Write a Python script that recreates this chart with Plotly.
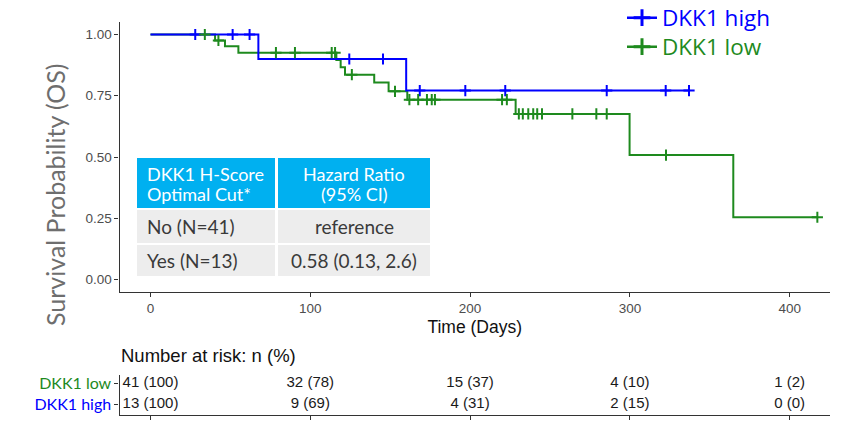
import plotly.graph_objects as go

# ---- Kaplan-Meier step data (time in days, survival probability) ----
high_step_t = [0, 67.5, 160.0, 337.0]
high_step_s = [1.0, 0.900, 0.771, 0.771]
high_censor_t = [28, 51.4, 62, 124.4, 145.5, 168.5, 197, 222, 285.5, 322.4, 337]

low_step_t = [0, 40.4, 46.6, 55.0, 116.3, 119.0, 121.7, 140.0, 149.0, 160.7,
              228.5, 299.8, 364.7, 417.3]
low_step_s = [1.0, 0.976, 0.952, 0.926, 0.896, 0.866, 0.836, 0.804, 0.768, 0.734,
              0.676, 0.508, 0.254, 0.254]
low_censor_t = [34, 42.5, 78.5, 90.4, 113.4, 115.5, 126, 153, 162, 167.5, 173, 176,
                178, 220, 223, 230.5, 233, 236.4, 239.5, 242, 245, 264, 279, 285.5,
                322.6, 417.3]

# ---- Number at risk table ----
risk_times = [0, 100, 200, 300, 400]
risk_low = ["41 (100)", "32 (78)", "15 (37)", "4 (10)", "1 (2)"]
risk_high = ["13 (100)", "9 (69)", "4 (31)", "2 (15)", "0 (0)"]

# ---- Hazard ratio table ----
hr_header_col1 = ["DKK1 H-Score", "Optimal Cut*"]
hr_header_col2 = ["Hazard Ratio", "(95% CI)"]
hr_col1 = ["No (N=41)", "Yes (N=13)"]
hr_col2 = ["reference", "0.58 (0.13, 2.6)"]

x_ticks = [0, 100, 200, 300, 400]
y_ticks = [0, 0.25, 0.5, 0.75, 1.0]

BLUE = "#0000FF"
GREEN = "#1E8A1E"
W, H = 842, 425
CAL = "Lato, Open Sans, sans-serif"
ARIAL = "Liberation Sans, Arial, sans-serif"


def surv_at(t, step_t, step_s):
    s = step_s[0]
    for tt, ss in zip(step_t, step_s):
        if tt <= t:
            s = ss
    return s


def px_x(p):
    return p / W


def px_y(p):
    return 1 - p / H


fig = go.Figure()

# survival curves
fig.add_trace(go.Scatter(x=low_step_t, y=low_step_s, mode="lines", line_shape="hv",
                         line=dict(color=GREEN, width=2), showlegend=False,
                         hoverinfo="skip"))
fig.add_trace(go.Scatter(x=high_step_t, y=high_step_s, mode="lines", line_shape="hv",
                         line=dict(color=BLUE, width=2), showlegend=False,
                         hoverinfo="skip"))

# censoring marks
fig.add_trace(go.Scatter(x=high_censor_t,
                         y=[surv_at(t, high_step_t, high_step_s) for t in high_censor_t],
                         mode="markers",
                         marker=dict(symbol="cross-thin", size=8,
                                     line=dict(color=BLUE, width=2)),
                         showlegend=False))
fig.add_trace(go.Scatter(x=low_censor_t,
                         y=[surv_at(t, low_step_t, low_step_s) for t in low_censor_t],
                         mode="markers",
                         marker=dict(symbol="cross-thin", size=8,
                                     line=dict(color=GREEN, width=2)),
                         showlegend=False))

# legend entries (one legend box per group so each can be placed freely)
fig.add_trace(go.Scatter(x=[None], y=[None], mode="lines+markers",
                         name=f'<span style="color:{BLUE}">DKK1 high</span>',
                         legend="legend",
                         line=dict(color=BLUE, width=2.5),
                         marker=dict(symbol="cross-thin", size=12,
                                     line=dict(color=BLUE, width=3))))
fig.add_trace(go.Scatter(x=[None], y=[None], mode="lines+markers",
                         name=f'<span style="color:{GREEN}">DKK1 low</span>',
                         legend="legend2",
                         line=dict(color=GREEN, width=2.5),
                         marker=dict(symbol="cross-thin", size=12,
                                     line=dict(color=GREEN, width=3))))

# number at risk rows
fig.add_trace(go.Scatter(x=risk_times + risk_times,
                         y=[1] * len(risk_times) + [0] * len(risk_times),
                         text=risk_low + risk_high, mode="text",
                         textfont=dict(family=ARIAL, size=15, color="#1A1A1A"),
                         xaxis="x2", yaxis="y2", showlegend=False, hoverinfo="skip"))

# hazard ratio table: cell boxes (pixel bounds) and text
col_bounds = [(137, 275), (278, 430)]
row_bounds = [(158, 208), (210, 243), (245, 276)]
shapes = []
for r, (y0, y1) in enumerate(row_bounds):
    for (x0, x1) in col_bounds:
        shapes.append(dict(type="rect", xref="paper", yref="paper",
                           x0=px_x(x0), x1=px_x(x1), y0=px_y(y1), y1=px_y(y0),
                           fillcolor="#00B0F0" if r == 0 else "#EDEDED",
                           line=dict(width=0), layer="above"))

annotations = []
col1_left = 145
col2_mid = (col_bounds[1][0] + col_bounds[1][1]) / 2
for i, (a, b) in enumerate(zip(hr_header_col1, hr_header_col2)):
    yy = px_y(174 + 20 * i)
    annotations.append(dict(text=a, x=px_x(col1_left), y=yy, xanchor="left"))
    annotations.append(dict(text=b, x=px_x(col2_mid), y=yy, xanchor="center"))
for ann in annotations:
    ann.update(xref="paper", yref="paper", yanchor="middle", showarrow=False,
               font=dict(family=CAL, size=18, color="white"))
for i, (a, b) in enumerate(zip(hr_col1, hr_col2)):
    y0, y1 = row_bounds[i + 1]
    yy = px_y((y0 + y1) / 2)
    for txt, xx, anc in [(a, col1_left, "left"), (b, col2_mid, "center")]:
        annotations.append(dict(text=txt, x=px_x(xx), y=yy, xanchor=anc,
                                yanchor="middle", xref="paper", yref="paper",
                                showarrow=False,
                                font=dict(family=CAL, size=19, color="#3A3A3A")))

annotations.append(dict(text="Number at risk: n (%)", xref="paper", yref="paper",
                        x=px_x(119), y=px_y(355), xanchor="left", yanchor="middle",
                        showarrow=False,
                        font=dict(family=ARIAL, size=18.5, color="#111111")))
annotations.append(dict(text="Survival Probability (OS)", xref="paper", yref="paper",
                        x=px_x(55), y=px_y(195), xanchor="center", yanchor="middle",
                        textangle=-90, showarrow=False,
                        font=dict(family=CAL, size=25, color="#6E6E6E")))

x_left, x_right = 119.5, 830
x0_px, per_day = 150.5, 1.598
x_range = [(x_left - x0_px) / per_day, (x_right - x0_px) / per_day]

tick_font = dict(family=ARIAL, size=13.5, color="#4D4D4D")
legend_font = dict(family="Open Sans, Lato, sans-serif", size=22.5)

fig.update_layout(
    width=W, height=H,
    margin=dict(l=0, r=0, t=0, b=0, autoexpand=False),
    paper_bgcolor="white", plot_bgcolor="white",
    showlegend=True,
    legend=dict(x=px_x(622), y=px_y(18), xanchor="left", yanchor="middle",
                bgcolor="rgba(0,0,0,0)", font=legend_font, itemwidth=30,
                borderwidth=0),
    legend2=dict(x=px_x(622), y=px_y(47), xanchor="left", yanchor="middle",
                 bgcolor="rgba(0,0,0,0)", font=legend_font, itemwidth=30,
                 borderwidth=0),
    xaxis=dict(domain=[px_x(x_left), px_x(x_right)], range=x_range,
               tickvals=x_ticks, ticks="outside", ticklen=4, tickcolor="#333333",
               showline=True, linecolor="#333333", linewidth=1.2,
               showgrid=False, zeroline=False, tickfont=tick_font,
               title=dict(text="Time (Days)", standoff=5,
                          font=dict(family=ARIAL, size=17.5, color="#111111"))),
    yaxis=dict(domain=[px_y(291.75), px_y(22.25)], range=[-0.05, 1.05],
               tickvals=y_ticks, tickformat=".2f", ticks="outside", ticklen=4,
               tickcolor="#333333", showline=True, linecolor="#333333", linewidth=1.2,
               showgrid=False, zeroline=False, tickfont=tick_font),
    xaxis2=dict(domain=[px_x(x_left), px_x(x_right)], range=x_range, anchor="y2",
                tickvals=x_ticks, ticks="outside", ticklen=4, tickcolor="#333333",
                showticklabels=False, showline=True, linecolor="#333333",
                linewidth=1.2, showgrid=False, zeroline=False),
    yaxis2=dict(domain=[px_y(415), px_y(375)], range=[-0.524, 1.381], anchor="x2",
                tickvals=[1, 0],
                ticktext=[f'<span style="color:{GREEN}">DKK1 low</span>',
                          f'<span style="color:{BLUE}">DKK1 high</span>'],
                ticks="outside", ticklen=4, tickcolor="#333333",
                showline=True, linecolor="#333333", linewidth=1.2,
                showgrid=False, zeroline=False,
                tickfont=dict(family=CAL, size=16)),
    shapes=shapes,
    annotations=annotations,
)

fig.write_html("out.html")
